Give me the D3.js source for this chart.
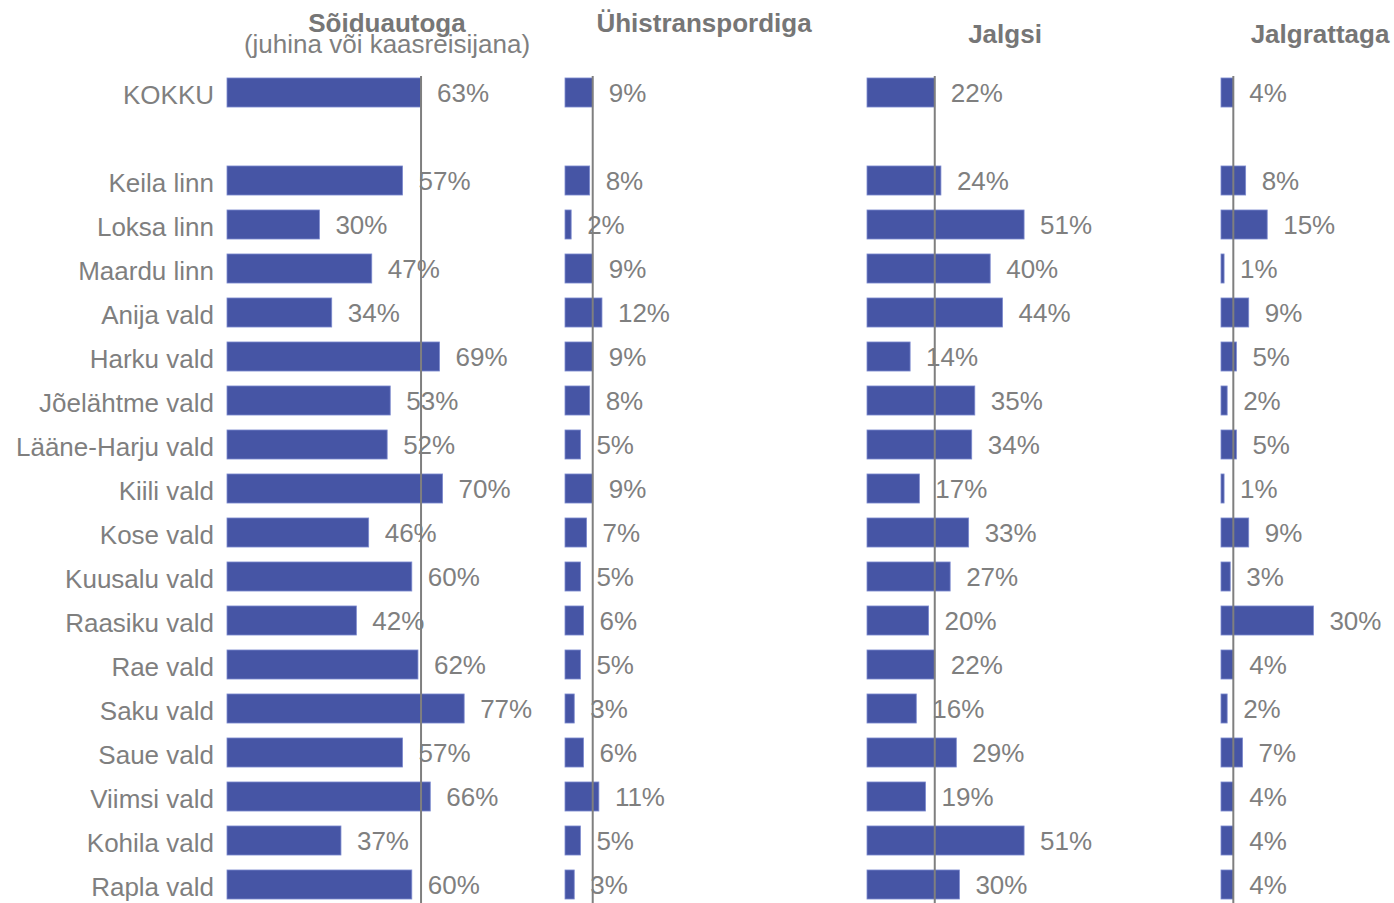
<!DOCTYPE html>
<html>
<head>
<meta charset="utf-8">
<script src="https://cdn.jsdelivr.net/npm/d3@7"></script>
<style>
  html, body { margin: 0; padding: 0; background: #fff; }
  svg { display: block; font-family: "Liberation Sans", Arial, sans-serif; }
</style>
</head>
<body>
<div id="chart"></div>
<script>
// Categories (empty string = spacer row after the total)
const categories = [
  'KOKKU', '', 'Keila linn', 'Loksa linn', 'Maardu linn', 'Anija vald', 'Harku vald',
  'Jõelähtme vald', 'Lääne-Harju vald', 'Kiili vald', 'Kose vald', 'Kuusalu vald',
  'Raasiku vald', 'Rae vald', 'Saku vald', 'Saue vald', 'Viimsi vald', 'Kohila vald', 'Rapla vald'
];

// Share of trips per mode, % (null for spacer row)
const carValues = [63, null, 57, 30, 47, 34, 69, 53, 52, 70, 46, 60, 42, 62, 77, 57, 66, 37, 60];
const transitValues = [9, null, 8, 2, 9, 12, 9, 8, 5, 9, 7, 5, 6, 5, 3, 6, 11, 5, 3];
const walkValues = [22, null, 24, 51, 40, 44, 14, 35, 34, 17, 33, 27, 20, 22, 16, 29, 19, 51, 30];
const bikeValues = [4, null, 8, 15, 1, 9, 5, 2, 5, 1, 9, 3, 30, 4, 2, 7, 4, 4, 4];

const panelTitles = ['Sõiduautoga', 'Ühistranspordiga', 'Jalgsi', 'Jalgrattaga'];
const panelSubtitles = ['(juhina või kaasreisijana)', '', '', ''];

const width = 1394;
const height = 903;
const barColor = '#4655a5';
const textColor = '#7f7f7f';

const panels = [
  { values: carValues, x0: 227, titleX: 387, titleY: 32 },
  { values: transitValues, x0: 565, titleX: 704, titleY: 32 },
  { values: walkValues, x0: 867, titleX: 1005, titleY: 43 },
  { values: bikeValues, x0: 1221, titleX: 1320, titleY: 43 }
];

const svg = d3.select('#chart')
  .append('svg')
  .attr('width', width)
  .attr('height', height);

// Rows: 44px step, bars ~29px tall
const y = d3.scaleBand()
  .domain(d3.range(categories.length))
  .range([70.5, 70.5 + 44 * categories.length])
  .paddingInner(0.34)
  .paddingOuter(0.17);

// Same percentage scale in every panel
const x = d3.scaleLinear().domain([0, 100]).range([0, 308]);

// Category labels
svg.append('g')
  .selectAll('text')
  .data(categories)
  .enter()
  .append('text')
  .attr('x', 214)
  .attr('y', (d, i) => y(i) + y.bandwidth() / 2 + 11)
  .attr('text-anchor', 'end')
  .style('font-size', '26px')
  .style('fill', textColor)
  .text(d => d);

panels.forEach((p, pi) => {
  const g = svg.append('g').attr('transform', `translate(${p.x0},0)`);
  const rows = p.values.map((v, i) => ({ v, i })).filter(d => d.v !== null);

  g.selectAll('rect')
    .data(rows)
    .enter()
    .append('rect')
    .attr('x', 0)
    .attr('y', d => y(d.i))
    .attr('width', d => x(d.v))
    .attr('height', y.bandwidth())
    .attr('fill', barColor)
    .attr('stroke', '#7d8bcf')
    .attr('stroke-width', 0.8);

  // Reference line at the total (KOKKU) value
  g.append('line')
    .attr('x1', x(p.values[0]))
    .attr('x2', x(p.values[0]))
    .attr('y1', y(0) - 2)
    .attr('y2', height)
    .attr('stroke', '#7f7f7f')
    .attr('stroke-width', 2);

  g.selectAll('text.val')
    .data(rows)
    .enter()
    .append('text')
    .attr('class', 'val')
    .attr('x', d => x(d.v) + 16)
    .attr('y', d => y(d.i) + y.bandwidth() / 2 + 9.5)
    .style('font-size', '26px')
    .style('fill', textColor)
    .text(d => d.v + '%');

  // Panel titles
  svg.append('text')
    .attr('x', p.titleX)
    .attr('y', p.titleY)
    .attr('text-anchor', 'middle')
    .style('font-size', '26px')
    .style('font-weight', 'bold')
    .style('fill', '#767676')
    .text(panelTitles[pi]);

  if (panelSubtitles[pi]) {
    svg.append('text')
      .attr('x', p.titleX)
      .attr('y', p.titleY + 21)
      .attr('text-anchor', 'middle')
      .style('font-size', '26px')
      .style('fill', textColor)
      .text(panelSubtitles[pi]);
  }
});
</script>
</body>
</html>
